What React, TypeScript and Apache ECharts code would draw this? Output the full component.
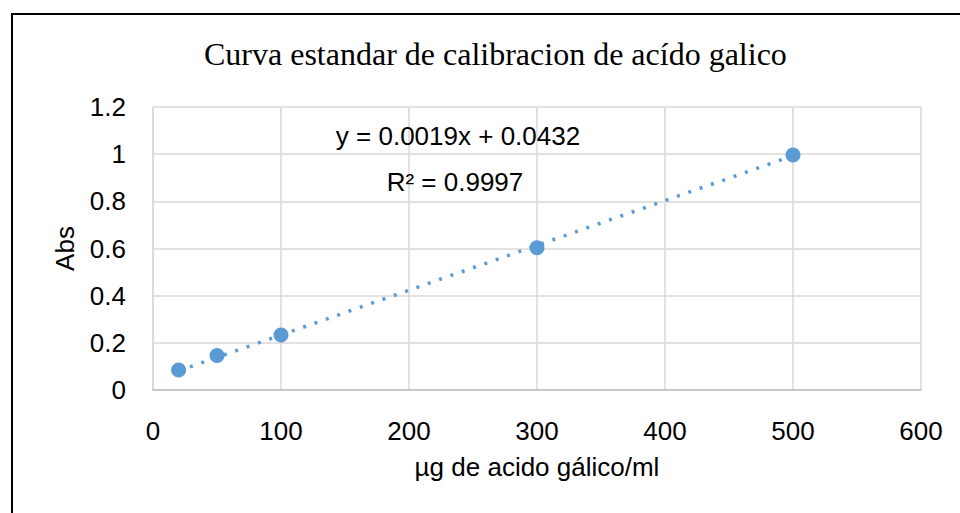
import React, { useEffect, useRef } from "react";
import * as echarts from "echarts";

const titleText = "Curva estandar de calibracion de acído galico";
const xAxisName = "µg de acido gálico/ml";
const yAxisName = "Abs";
const concentrations = [20, 50, 100, 300, 500];
const absorbances = [0.085, 0.146, 0.233, 0.603, 0.996];
const slope = 0.0019;
const intercept = 0.0432;
const trendX = [20, 500];
const equationLabel = "y = 0.0019x + 0.0432";
const r2Label = "R² = 0.9997";

const narrow = "'Liberation Sans Narrow', 'Arial Narrow', 'Liberation Sans', Arial, sans-serif";

export default function App() {
  const ref = useRef<HTMLDivElement>(null);
  useEffect(() => {
    if (!ref.current) return;
    const chart = echarts.init(ref.current, null, { renderer: "svg" });
    const points = concentrations.map((x, i) => [x, absorbances[i]]);
    const trend = trendX.map((x) => [x, slope * x + intercept]);
    chart.setOption({
      animation: false,
      backgroundColor: "#ffffff",
      title: {
        text: titleText,
        left: 199,
        top: 33,
        textStyle: {
          fontFamily: "'Liberation Serif', 'Times New Roman', serif",
          fontWeight: "normal",
          fontSize: 32,
          color: "#000",
        },
      },
      grid: { left: 153, top: 107, right: 39, bottom: 123, containLabel: false },
      xAxis: {
        type: "value",
        min: 0,
        max: 600,
        interval: 100,
        name: xAxisName,
        nameLocation: "middle",
        nameGap: 64,
        nameTextStyle: { fontFamily: narrow, fontSize: 26, color: "#000" },
        axisLine: { show: true, lineStyle: { color: "#bfbfbf", width: 1.5 } },
        axisTick: { show: false },
        axisLabel: { fontFamily: narrow, fontSize: 26, color: "#000", margin: 28 },
        splitLine: { show: true, lineStyle: { color: "#d9d9d9", width: 1.5 } },
      },
      yAxis: {
        type: "value",
        min: 0,
        max: 1.2,
        interval: 0.2,
        name: yAxisName,
        nameLocation: "middle",
        nameGap: 75,
        nameTextStyle: { fontFamily: narrow, fontSize: 26, color: "#000" },
        axisLine: { show: true, lineStyle: { color: "#d9d9d9", width: 1.5 } },
        axisTick: { show: false },
        axisLabel: {
          fontFamily: narrow,
          fontSize: 26,
          color: "#000",
          margin: 27,
          formatter: (v: number) => String(Math.round(v * 10) / 10),
        },
        splitLine: { show: true, lineStyle: { color: "#d9d9d9", width: 1.5 } },
      },
      series: [
        {
          type: "line",
          data: trend,
          symbol: "none",
          lineStyle: { color: "#5b9bd5", width: 3.5, type: [3, 9], cap: "butt" },
          z: 2,
        },
        {
          type: "scatter",
          data: points,
          symbol: "circle",
          symbolSize: 15,
          itemStyle: { color: "#5b9bd5", opacity: 1 },
          z: 3,
        },
      ],
      graphic: [
        {
          type: "rect",
          shape: { x: 12, y: 14, width: 1000, height: 600 },
          style: { fill: "none", stroke: "#000", lineWidth: 2 },
          silent: true,
        },
        {
          type: "text",
          x: 458,
          y: 136,
          style: {
            text: equationLabel,
            font: "26px " + narrow,
            fill: "#000",
            textAlign: "center",
            textVerticalAlign: "middle",
          },
          z: 10,
        },
        {
          type: "text",
          x: 455,
          y: 182,
          style: {
            text: r2Label,
            font: "26px " + narrow,
            fill: "#000",
            textAlign: "center",
            textVerticalAlign: "middle",
          },
          z: 10,
        },
      ],
    });
    return () => chart.dispose();
  }, []);
  return (
    <div
      ref={ref}
      style={{ position: "fixed", left: 0, top: 0, width: 960, height: 513 }}
    />
  );
}
